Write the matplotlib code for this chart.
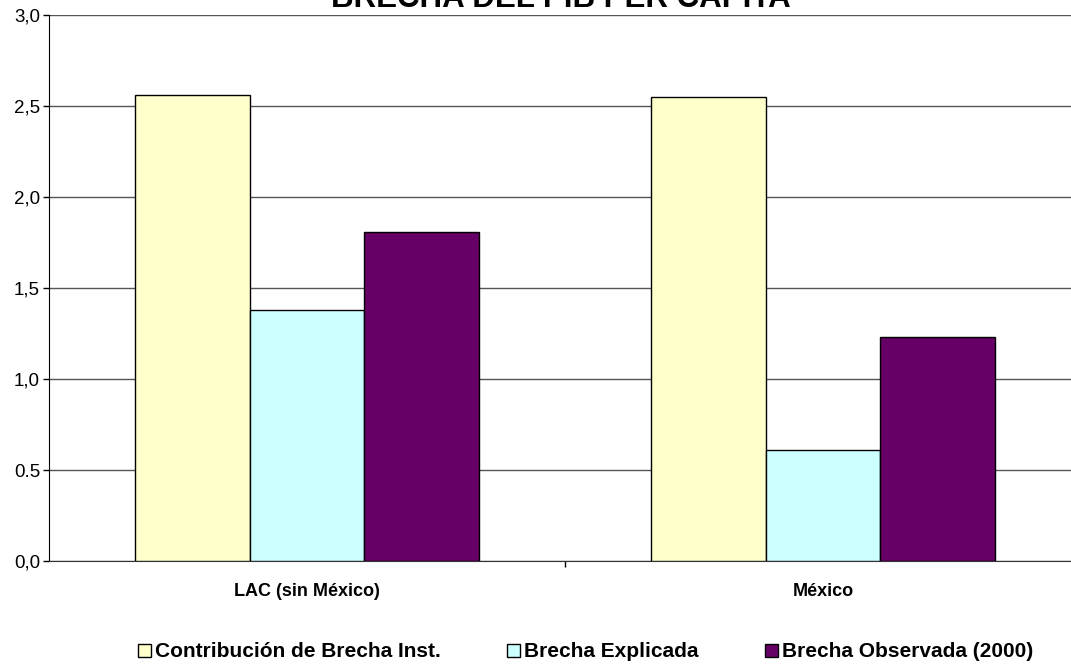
import numpy as np
import matplotlib
matplotlib.use('Agg')
import matplotlib.pyplot as plt

plt.rcParams['font.family'] = ['Liberation Sans', 'DejaVu Sans']

# datos del grafico
categorias = ['LAC (sin México)', 'México']
series = ['Contribución de Brecha Inst.', 'Brecha Explicada', 'Brecha Observada (2000)']
brecha_inst = [2.56, 2.55]
brecha_explicada = [1.38, 0.61]
brecha_observada = [1.81, 1.23]
y_ticks = [0.0, 0.5, 1.0, 1.5, 2.0, 2.5, 3.0]
y_tick_labels = ['0,0', '0.5', '1,0', '1,5', '2,0', '2,5', '3,0']

colores = ['#FFFFCC', '#CCFFFF', '#660066']

fig = plt.figure(figsize=(10.71, 6.67), dpi=100)
ax = fig.add_axes([0.0458, 0.1589, 0.9636, 0.8186])

x = np.arange(len(categorias))
ancho = 0.222
valores = [brecha_inst, brecha_explicada, brecha_observada]
for i, (vals, nombre) in enumerate(zip(valores, series)):
    ax.bar(x + (i - 1) * ancho, vals, width=ancho, color=colores[i],
           edgecolor='black', linewidth=1.0, label=nombre, zorder=3)

ax.set_xlim(-0.5, 1.5)
ax.set_ylim(0, 3.0)

ax.set_yticks(y_ticks)
ax.set_yticklabels(y_tick_labels, fontsize=13.5)
ax.tick_params(axis='y', direction='out', length=4.5, width=1, pad=2)

ax.set_xticks(x)
ax.set_xticklabels(categorias, fontsize=13, fontweight='bold')
ax.set_xticks([0.5], minor=True)
ax.tick_params(axis='x', which='major', length=0, pad=16)
ax.tick_params(axis='x', which='minor', direction='out', length=4.5, width=1)

ax.yaxis.grid(True, color='#555555', linewidth=1.0, zorder=0)
ax.set_axisbelow(True)
for lado in ['top', 'right']:
    ax.spines[lado].set_visible(False)
ax.spines['left'].set_color('black')
ax.spines['bottom'].set_color('#333333')

fig.text(0.524, 0.9895, 'BRECHA DEL PIB PER CAPITA', fontsize=22.5,
         fontweight='bold', ha='center', va='baseline')

leg = fig.legend(loc='center', bbox_to_anchor=(0.5467, 0.0225), ncol=3,
                 frameon=False, prop={'size': 15, 'weight': 'bold'},
                 handlelength=0.6, handleheight=0.6, handletextpad=0.2,
                 columnspacing=3.2, borderpad=0)

fig.savefig('out.png', dpi=100)
